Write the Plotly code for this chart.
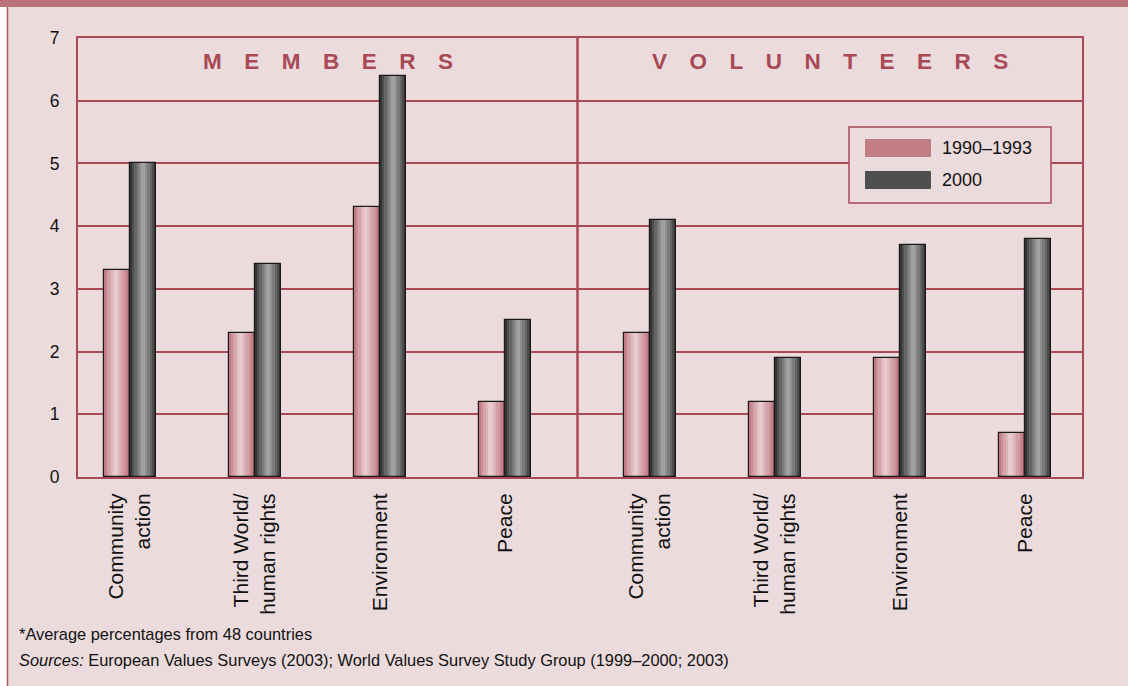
import plotly.graph_objects as go

# ---- data ----
groups = ["M E M B E R S", "V O L U N T E E R S"]
categories = ["Community<br>action", "Third World/<br>human rights", "Environment", "Peace"]
series_names = ["1990\u20131993", "2000"]
members_1990 = [3.3, 2.3, 4.3, 1.2]
members_2000 = [5.0, 3.4, 6.4, 2.5]
volunteers_1990 = [2.3, 1.2, 1.9, 0.7]
volunteers_2000 = [4.1, 1.9, 3.7, 3.8]
y_ticks = [0, 1, 2, 3, 4, 5, 6, 7]
footnote = "*Average percentages from 48 countries"
sources = "<i>Sources:</i> European Values Surveys (2003); World Values Survey Study Group (1999\u20132000; 2003)"

# ---- styling ----
BG = "#EBDBDD"
RED = "#A84955"
FONT = "Liberation Sans"
GAP = 0.16
W = 0.208
N = 12
x_range = [-0.416, 7.616]

n = len(categories)
xpos = [i for i in range(n)] + [i + n + GAP for i in range(n)]
divider = (n - 1) + (1 + GAP) / 2
vals_1990 = members_1990 + volunteers_1990
vals_2000 = members_2000 + volunteers_2000
tick_text = categories + categories


def lerp(c1, c2, t):
    return tuple(round(a + (b - a) * t) for a, b in zip(c1, c2))


def strip_color(edge_l, peak, edge_r, t, peak_pos):
    if t <= peak_pos:
        f = t / peak_pos
        c = lerp(edge_l, peak, f ** 0.8)
    else:
        f = (t - peak_pos) / (1 - peak_pos)
        c = lerp(peak, edge_r, f ** 1.2)
    return "rgb(%d,%d,%d)" % c


fig = go.Figure()

specs = [
    (vals_1990, -W, (184, 104, 115), (234, 208, 212), (182, 98, 110), 0.42, "#C27C84"),
    (vals_2000, 0.0, (34, 34, 34), (168, 168, 168), (40, 40, 40), 0.5, "#4F4F4F"),
]

for k, (vals, base_off, el, pk, er, pp, swatch) in enumerate(specs):
    for s in range(N):
        t = (s + 0.5) / N
        fig.add_trace(go.Bar(
            x=xpos, y=vals, width=W / N + 0.002, offset=base_off + s * W / N,
            marker=dict(color=strip_color(el, pk, er, t, pp), line=dict(width=0)),
            showlegend=False, hoverinfo="skip"))
    fig.add_trace(go.Bar(
        x=xpos, y=vals, width=W, offset=base_off, name=series_names[k],
        marker=dict(color="rgba(0,0,0,0)", line=dict(color="#1A1A1A", width=1.2)),
        showlegend=False))

shapes = []
# top band
shapes.append(dict(type="rect", xref="paper", yref="paper", x0=-0.08, x1=1.05,
                   y0=(477 - 7) / 439, y1=(477 + 1) / 439, fillcolor="#B8737B",
                   line=dict(width=0), layer="below"))
# left white strip & border
shapes.append(dict(type="rect", xref="paper", yref="paper", x0=-0.08, x1=(7 - 78) / 1004,
                   y0=-0.5, y1=(477 - 7) / 439, fillcolor="white", line=dict(width=0), layer="below"))
shapes.append(dict(type="line", xref="paper", yref="paper", x0=(7.5 - 78) / 1004, x1=(7.5 - 78) / 1004,
                   y0=-0.5, y1=(477 - 7) / 439, line=dict(color="#B05560", width=1.5)))
# divider
shapes.append(dict(type="line", xref="x", yref="y", x0=divider, x1=divider, y0=0, y1=7,
                   line=dict(color=RED, width=2.5)))

# legend box (manual)
lx0, lx1 = (849 - 78) / 1004, (1051 - 78) / 1004
ly0, ly1 = (477 - 203) / 439, (477 - 127) / 439
shapes.append(dict(type="rect", xref="paper", yref="paper", x0=lx0, x1=lx1, y0=ly0, y1=ly1,
                   fillcolor=BG, line=dict(color=RED, width=1.5), layer="above"))
sw_x0, sw_x1 = (865 - 78) / 1004, (931 - 78) / 1004
sw_rows = [(139, 157), (171, 189)]
annotations = []
for k, (top, bot) in enumerate(sw_rows):
    shapes.append(dict(type="rect", xref="paper", yref="paper", x0=sw_x0, x1=sw_x1,
                       y0=(477 - bot) / 439, y1=(477 - top) / 439,
                       fillcolor=specs[k][6], line=dict(width=0), layer="above"))
    annotations.append(dict(xref="paper", yref="paper", x=(940 - 78) / 1004,
                            y=(477 - (top + bot) / 2) / 439, xanchor="left", yanchor="middle",
                            text=series_names[k], showarrow=False,
                            font=dict(family=FONT, size=18, color="#111")))

# group headings
for g, (a, b) in zip(groups, [(x_range[0], divider), (divider, x_range[1])]):
    annotations.append(dict(xref="x", yref="paper", x=(a + b) / 2, y=(477 - 62) / 439,
                            xanchor="center", yanchor="middle", showarrow=False,
                            text=g.replace(" ", "\u2003"),
                            font=dict(family=FONT, size=22.5, color=RED, weight="bold")))

# footnotes
annotations.append(dict(xref="paper", yref="paper", x=(17 - 78) / 1004, y=(477 - 634) / 439,
                        xanchor="left", yanchor="middle", text=footnote, showarrow=False,
                        font=dict(family=FONT, size=16.4, color="#111")))
annotations.append(dict(xref="paper", yref="paper", x=(17 - 78) / 1004, y=(477 - 660) / 439,
                        xanchor="left", yanchor="middle", text=sources, showarrow=False,
                        font=dict(family=FONT, size=16.4, color="#111")))

fig.update_layout(
    width=1128, height=686,
    margin=dict(l=78, r=46, t=38, b=209),
    paper_bgcolor=BG, plot_bgcolor=BG,
    barmode="overlay", bargap=0,
    showlegend=False,
    shapes=shapes, annotations=annotations,
    font=dict(family=FONT, color="#111"),
    xaxis=dict(range=x_range, tickmode="array", tickvals=xpos, ticktext=tick_text,
               tickangle=-90, tickfont=dict(family=FONT, size=21, color="#111"),
               showgrid=False, zeroline=False, showline=True, linecolor=RED, linewidth=2,
               mirror=True, ticks="", ticklabelstandoff=6, fixedrange=True),
    yaxis=dict(range=[0, 7], tickmode="array", tickvals=y_ticks,
               tickfont=dict(family=FONT, size=17.5, color="#111"),
               showgrid=True, gridcolor=RED, gridwidth=2, zeroline=False,
               showline=True, linecolor=RED, linewidth=2, mirror=True, ticks="",
               ticklabelstandoff=13, fixedrange=True),
)

fig.write_html("out.html", config={"displayModeBar": False},
               post_script="document.body.style.margin='0';document.body.style.overflow='hidden';")
